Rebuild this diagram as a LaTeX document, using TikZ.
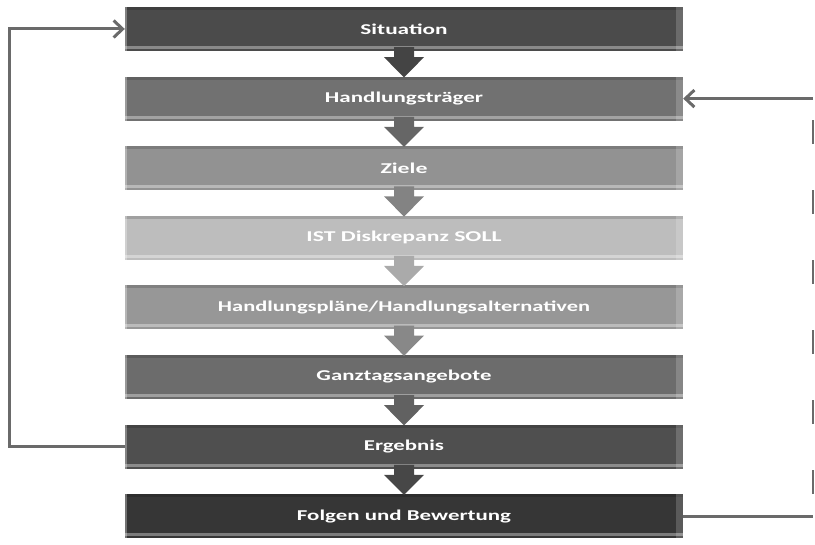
\documentclass[tikz,border=0pt]{standalone}
\usepackage{fontspec}
\setmainfont{Carlito}
\usetikzlibrary{calc,arrows.meta}

\definecolor{cSit}{HTML}{4B4B4B}
\definecolor{cAkt}{HTML}{717171}
\definecolor{cZiel}{HTML}{929292}
\definecolor{cIst}{HTML}{BDBDBD}
\definecolor{cPlan}{HTML}{979797}
\definecolor{cGanz}{HTML}{6C6C6C}
\definecolor{cErg}{HTML}{4F4F4F}
\definecolor{cFolg}{HTML}{363636}
\definecolor{cLine}{HTML}{6A6A6A}

\tikzset{
  stage/.style={rectangle,minimum width=558pt,minimum height=44pt,inner sep=0pt,
    text=white,font=\bfseries\fontsize{15}{17}\selectfont,fill=#1,
    path picture={
      \fill[black,opacity=.15] (path picture bounding box.north west) rectangle ([yshift=-3pt]path picture bounding box.north east);
      \fill[white,opacity=.35] ([yshift=2pt]path picture bounding box.south west) rectangle ([yshift=5pt]path picture bounding box.south east);
      \fill[white,opacity=.18] ([xshift=-7pt]path picture bounding box.north east) rectangle (path picture bounding box.south east);
      \fill[white,opacity=.3] (path picture bounding box.north west) rectangle ([xshift=2pt]path picture bounding box.south west);
    }},
  feedback/.style={draw=cLine,line width=3pt},
  backarrow/.style={-{Straight Barb[length=9pt,width=17pt,line width=3pt]}}
}

\begin{document}
\begin{tikzpicture}[x=1pt,y=1pt]
  \useasboundingbox (0,0) rectangle (815,545);

  \node[stage=cSit]  (sit)  at (404,516)   {\resizebox{87pt}{\height}{Situation}};
  \node[stage=cAkt]  (akt)  at (404,446.4) {\resizebox{158pt}{\height}{Handlungsträger}};
  \node[stage=cZiel] (ziel) at (404,376.8) {\resizebox{47pt}{\height}{Ziele}};
  \node[stage=cIst]  (ist)  at (404,307.2) {\resizebox{195pt}{\height}{IST Diskrepanz SOLL}};
  \node[stage=cPlan] (plan) at (404,237.6) {\resizebox{372pt}{\height}{Handlungspläne/Handlungsalternativen}};
  \node[stage=cGanz] (ganz) at (404,168)   {\resizebox{175pt}{\height}{Ganztagsangebote}};
  \node[stage=cErg]  (erg)  at (404,98.4)  {\resizebox{80pt}{\height}{Ergebnis}};
  \node[stage=cFolg] (folg) at (404,28.8)  {\resizebox{214pt}{\height}{Folgen und Bewertung}};

  % block arrows between the stages
  \foreach \a/\b/\c in {sit/akt/cSit,akt/ziel/cAkt,ziel/ist/cZiel,ist/plan/cIst,
                        plan/ganz/cPlan,ganz/erg/cGanz,erg/folg/cErg}
    \fill[\c!90!black] ($(\a.south)+(-10,4)$) -- ($(\a.south)+(10,4)$)
      -- ($(\a.south)+(10,-6)$) -- ($(\a.south)+(20,-6)$) -- ($(\b.north)+(0,-1)$)
      -- ($(\a.south)+(-20,-6)$) -- ($(\a.south)+(-10,-6)$) -- cycle;

  % feedback loops
  \draw[feedback,backarrow] (erg.west) -- ++(-115,0) |- (sit.west);
  \draw[feedback] (folg.east) -- ++(130,0) coordinate (rb);
  \draw[feedback,line width=2pt,dash pattern=on 24pt off 46pt,dash phase=48pt]
    (rb) -- (rb |- akt.east);
  \draw[feedback,backarrow] (rb |- akt.east) -- (akt.east);
\end{tikzpicture}
\end{document}
